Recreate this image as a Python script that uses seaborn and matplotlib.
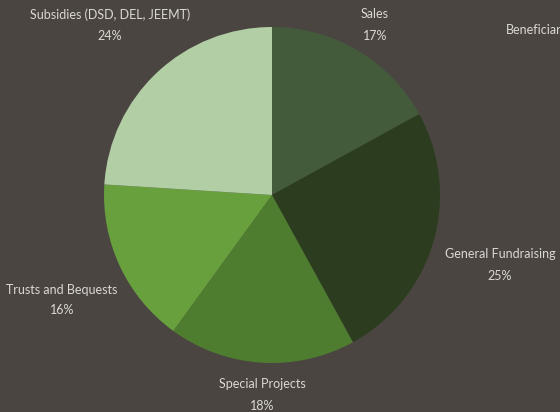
import matplotlib
matplotlib.use("Agg")
import matplotlib.pyplot as plt
import seaborn as sns

# income sources, clockwise from 12 o'clock
sources = ["Sales", "General Fundraising", "Special Projects",
           "Trusts and Bequests", "Subsidies (DSD, DEL, JEEMT)"]
shares = [17, 25, 18, 16, 24]
colors = ["#435b3a", "#2b3d1e", "#4f7d2f", "#67a03d", "#b2cea5"]

# label anchors (pixels of the 560x412 picture)
label_px = [(375, 25), (500, 265), (262, 395), (62, 300), (110, 25)]

bg = "#4b4542"
txt = "#dcd8d4"

sns.set_theme(style="dark", rc={"axes.facecolor": bg, "figure.facecolor": bg})
plt.rcParams['font.family'] = ['Lato', 'DejaVu Sans']

fig = plt.figure(figsize=(5.6, 4.12), dpi=100)
ax = fig.add_axes([0, 0, 1, 1])

ax.pie(shares, colors=colors, startangle=90, counterclock=False,
       radius=1, center=(0, 0), wedgeprops={"linewidth": 0})

# pie centre at (272,195) px, radius 168 px
cx, cy, r = 272, 195, 168
ax.set_xlim(-cx / r, (560 - cx) / r)
ax.set_ylim(-(412 - cy) / r, cy / r)
ax.set_aspect("auto")
ax.axis("off")

for name, val, (px, py) in zip(sources, shares, label_px):
    ax.text((px - cx) / r, (cy - py) / r, f"{name}\n{val}%", ha="center", va="center",
            color=txt, fontsize=9, linespacing=1.9)

ax.text((506 - cx) / r, (cy - 30) / r, "Beneficiaries", ha="left", va="center",
        color=txt, fontsize=9)

fig.savefig("out.png", dpi=100, facecolor=bg)
